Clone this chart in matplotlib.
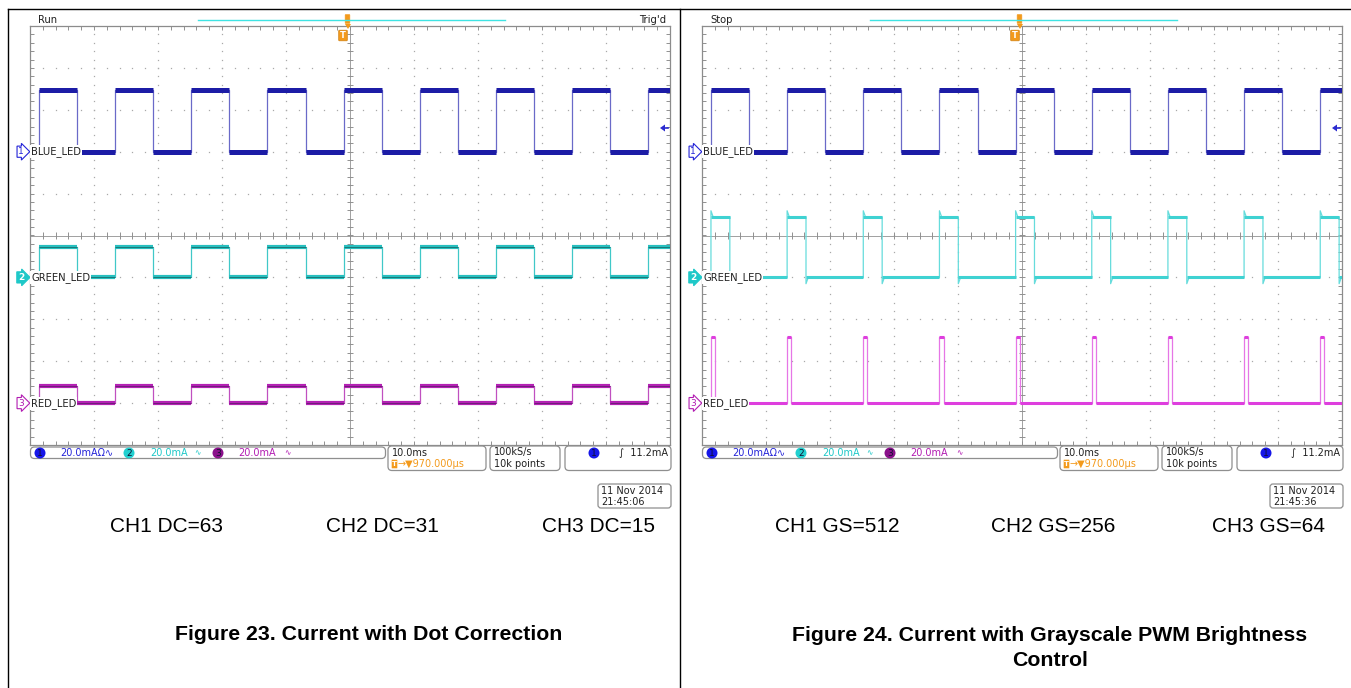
import numpy as np
import matplotlib
matplotlib.use('Agg')
import matplotlib.pyplot as plt
from matplotlib.patches import FancyBboxPatch, Circle, Polygon
from matplotlib.collections import LineCollection

W, H = 1351, 688

# ---------------- data ----------------
rise_ms = [1.4, 13.3, 25.2, 37.1, 49.0, 60.9, 72.8, 84.7, 96.6]   # pulse starts (ms)
channel_names = ['BLUE_LED', 'GREEN_LED', 'RED_LED']
channel_offset_div = [2, -1, -4]          # baseline of each trace (divisions)
volts_per_div_mA = 20.0

# Figure 23 : dot correction (amplitude changes, duty stays)
dc_high_mA = [29.5, 14.5, 8.0]
dc_width_ms = [5.95, 5.95, 5.95]
dc_overshoot_mA = [0.0, 0.0, 0.0]
dc_labels = ['CH1 DC=63', 'CH2 DC=31', 'CH3 DC=15']

# Figure 24 : grayscale PWM (duty changes, amplitude stays)
gs_high_mA = [29.5, 28.8, 31.5]
gs_width_ms = [5.95, 2.95, 0.65]
gs_overshoot_mA = [0.0, 3.0, 0.0]
gs_labels = ['CH1 GS=512', 'CH2 GS=256', 'CH3 GS=64']

captions = ['Figure 23. Current with Dot Correction',
            'Figure 24. Current with Grayscale PWM Brightness\nControl']
states = ['Run', 'Stop']
trig_state = ['Trig\'d', '']
timestamps = ['21:45:06', '21:45:36']
date_str = '11 Nov 2014'
scale_txt = '20.0mA'
timebase = '10.0ms'
delay = '970.000µs'
rate = '100kS/s'
points = '10k points'
trig_level = '11.2mA'

# ---------------- styling ----------------
panel_x0 = [30, 702]
GW, G_TOP, G_BOT = 640, 26, 445
thick_cols = {0: [('#1c1ca6', '#6a6ac8', None), ('#27bfbf', '#40c8c8', '#1b7676'), ('#b421b4', '#c050c0', '#6d1f78')],
              1: [('#1c1ca6', '#6a6ac8', None), ('#3fd2d2', '#66dcdc', None), ('#de3ede', '#e676e6', None)]}
band_lw = {0: [3.6, 3.0, 3.0], 1: [3.6, 2.2, 2.2]}
ch_col = ['#2323d8', '#1ec8c8', '#b21cb2']
circ_col = ['#1616e8', '#22d0d0', '#8a108a']
orange = '#f39a1c'
gridc = '#a9a9a9'

fig = plt.figure(figsize=(W / 100, H / 100), dpi=100)

# overlay axes in pixel coordinates
ov = fig.add_axes([0, 0, 1, 1], zorder=10)
ov.set_xlim(0, W)
ov.set_ylim(H, 0)
ov.axis('off')
ov.patch.set_alpha(0)


def build_step(rises, width, high, os_):
    xs, ys = [0.0], [0.0]
    hi_segs, lo_segs = [], []
    last = 0.0
    for r in rises:
        f = r + width
        lo_segs.append((last, r))
        xs += [r, r]
        ys += [0.0, high + os_]
        if os_:
            xs.append(r + 0.35)
            ys.append(high)
        if f >= 100:
            xs.append(100.0)
            ys.append(high)
            hi_segs.append((r, 100.0))
            last = None
            break
        hi_segs.append((r, f))
        xs += [f, f]
        ys += [high, -os_ if os_ else 0.0]
        if os_:
            xs.append(f + 0.35)
            ys.append(0.0)
        last = f
    if last is not None:
        lo_segs.append((last, 100.0))
        xs.append(100.0)
        ys.append(0.0)
    return np.array(xs), np.array(ys), hi_segs, lo_segs


for p in range(2):
    x0 = panel_x0[p]
    ax = fig.add_axes([x0 / W, (H - G_BOT) / H, GW / W, (G_BOT - G_TOP) / H], zorder=2)
    ax.set_xlim(0, 100)
    ax.set_ylim(-5, 5)
    ax.set_xticks([])
    ax.set_yticks([])
    for s in ax.spines.values():
        s.set_color('#8c8c8c')
        s.set_linewidth(0.9)

    # dotted graticule
    yy = np.arange(-5, 5.001, 0.2)
    xx = np.arange(0, 100.001, 2)
    for k in range(1, 10):
        if k == 5:
            continue
        ax.plot(np.full_like(yy, 10 * k), yy, ls='none', marker='s', ms=0.9, color=gridc, mew=0)
    for k in range(-4, 5):
        if k == 0:
            continue
        ax.plot(xx, np.full_like(xx, k), ls='none', marker='s', ms=0.9, color=gridc, mew=0)
    ax.axvline(50, color='#a0a0a0', lw=0.7)
    ax.axhline(0, color='#a0a0a0', lw=0.7)
    segs = []
    for x in xx:
        segs.append([(x, -0.09), (x, 0.09)])
        segs.append([(x, 5), (x, 4.9)])
        segs.append([(x, -5), (x, -4.9)])
    for y in yy:
        segs.append([(49.5, y), (50.5, y)])
        segs.append([(0, y), (0.6, y)])
        segs.append([(100, y), (99.4, y)])
    ax.add_collection(LineCollection(segs, colors='#909090', linewidths=0.7))

    highs = dc_high_mA if p == 0 else gs_high_mA
    widths = dc_width_ms if p == 0 else gs_width_ms
    oss = dc_overshoot_mA if p == 0 else gs_overshoot_mA
    for c in range(3):
        base = channel_offset_div[c]
        hi = highs[c] / volts_per_div_mA
        os_ = oss[c] / volts_per_div_mA
        xs, ys, hs, ls_ = build_step(rise_ms, widths[c], hi, os_)
        thick, edge, center = thick_cols[p][c]
        ax.plot(xs, ys + base, color=edge, lw=0.9, zorder=3)
        lw = band_lw[p][c]
        ax.hlines([base + hi] * len(hs), [a for a, b in hs], [b for a, b in hs], color=thick, lw=lw, zorder=4)
        ax.hlines([base] * len(ls_), [a for a, b in ls_], [b for a, b in ls_], color=thick, lw=lw, zorder=4)
        if center:
            ax.hlines([base + hi] * len(hs), [a for a, b in hs], [b for a, b in hs], color=center, lw=0.7, zorder=5)
            ax.hlines([base] * len(ls_), [a for a, b in ls_], [b for a, b in ls_], color=center, lw=0.7, zorder=5)

    # channel labels
    for c in range(3):
        ypx = G_TOP + (5 - channel_offset_div[c]) * (G_BOT - G_TOP) / 10
        if c == 1:
            ov.text(x0 - 9, ypx, str(c + 1), color='white', fontsize=6.5, ha='center', va='center',
                    fontweight='bold',
                    bbox=dict(boxstyle='rarrow,pad=0.12', fc=ch_col[c], ec=ch_col[c], lw=0.8))
        else:
            ov.text(x0 - 9, ypx, str(c + 1), color=ch_col[c], fontsize=6.5, ha='center', va='center',
                    bbox=dict(boxstyle='rarrow,pad=0.12', fc='white', ec=ch_col[c], lw=0.8))
        ov.text(x0 + 1, ypx, channel_names[c], color='#202020', fontsize=7.2, ha='left', va='center',
                bbox=dict(boxstyle='square,pad=0.1', fc='white', ec='none'))

    # top bar
    ov.text(x0 + 8, 20, states[p], fontsize=7.2, color='#202020', va='center', ha='left')
    if trig_state[p]:
        ov.text(x0 + 609, 20, trig_state[p], fontsize=7.2, color='#202020', va='center', ha='left')
    ov.plot([x0 + 168, x0 + 475], [20, 20], color='#3fe3e3', lw=1.0)
    ov.add_patch(FancyBboxPatch((x0 + 315.5, 15), 4, 8, boxstyle='round,pad=0.3', fc=orange, ec=orange, lw=0.5))
    ov.add_patch(Polygon([[x0 + 315, 24], [x0 + 321, 24], [x0 + 318, 29]], closed=True, fc=orange, ec='none'))
    ov.add_patch(FancyBboxPatch((x0 + 309.5, 31), 7, 9, boxstyle='round,pad=0.8', fc=orange, ec='#d08010', lw=0.5))
    ov.text(x0 + 313, 35.5, 'T', color='white', fontsize=6, fontweight='bold', ha='center', va='center')
    # trigger level arrow
    ov.add_patch(Polygon([[x0 + 630, 128], [x0 + 635, 124.5], [x0 + 635, 131.5]], closed=True, fc='#2a2ad0', ec='none'))
    ov.plot([x0 + 634, x0 + 638], [128, 128], color='#2a2ad0', lw=1.2)

    # status bar
    ov.add_patch(FancyBboxPatch((x0 + 0.5, 447), 355, 11.5, boxstyle='round,pad=0,rounding_size=4',
                                fc='white', ec='#8f8f8f', lw=0.9))
    cx = [x0 + 10, x0 + 99, x0 + 188]
    tx = [x0 + 30, x0 + 120, x0 + 208]
    suffix = ['Ω∿', '', '']
    sym = ['', '∿', '∿']
    sym_x = [0, x0 + 164, x0 + 254]
    for c in range(3):
        ov.add_patch(Circle((cx[c], 453), 5.5, fc=circ_col[c], ec='none'))
        ov.text(cx[c], 453.3, str(c + 1), fontsize=6.5, color='#101030', ha='center', va='center')
        ov.text(tx[c], 453, scale_txt + suffix[c], fontsize=7, color=ch_col[c], ha='left', va='center')
        if sym[c]:
            ov.text(sym_x[c], 453, sym[c], fontsize=5.5, color=ch_col[c], ha='left', va='center')

    ov.add_patch(FancyBboxPatch((x0 + 358, 446), 98, 24.5, boxstyle='round,pad=0,rounding_size=4',
                                fc='white', ec='#8f8f8f', lw=0.9))
    ov.text(x0 + 362, 452.5, timebase, fontsize=7, color='#202020', ha='left', va='center')
    ov.add_patch(FancyBboxPatch((x0 + 362, 460), 5, 8, boxstyle='round,pad=0.3', fc=orange, ec='none'))
    ov.text(x0 + 364.5, 464, 'T', fontsize=5, color='white', ha='center', va='center', fontweight='bold')
    ov.text(x0 + 368, 464, '→▼' + delay, fontsize=7, color=orange, ha='left', va='center')

    ov.add_patch(FancyBboxPatch((x0 + 460, 446), 70, 24.5, boxstyle='round,pad=0,rounding_size=4',
                                fc='white', ec='#8f8f8f', lw=0.9))
    ov.text(x0 + 464, 452.5, rate, fontsize=7, color='#202020', ha='left', va='center')
    ov.text(x0 + 464, 464, points, fontsize=7, color='#202020', ha='left', va='center')

    ov.add_patch(FancyBboxPatch((x0 + 535, 446), 106, 24.5, boxstyle='round,pad=0,rounding_size=4',
                                fc='white', ec='#8f8f8f', lw=0.9))
    ov.add_patch(Circle((x0 + 564, 453), 5.5, fc=circ_col[0], ec='none'))
    ov.text(x0 + 564, 453.3, '1', fontsize=6.5, color='#101030', ha='center', va='center')
    ov.text(x0 + 638, 453, '∫  ' + trig_level, fontsize=7, color='#202020', ha='right', va='center')

    ov.add_patch(FancyBboxPatch((x0 + 568, 484), 73, 24, boxstyle='round,pad=0,rounding_size=3',
                                fc='white', ec='#8f8f8f', lw=0.9))
    ov.text(x0 + 571, 491, date_str, fontsize=7, color='#202020', ha='left', va='center')
    ov.text(x0 + 571, 502, timestamps[p], fontsize=7, color='#202020', ha='left', va='center')

    # annotations below
    labs = dc_labels if p == 0 else gs_labels
    for i, cxp in enumerate([x0 + 136, x0 + 352, x0 + 568]):
        ov.text(cxp + (-1 if p else 0), 526, labs[i], fontsize=15, family='Liberation Sans',
                ha='center', va='center', color='black')

# captions
ov.text(369, 634, captions[0], fontsize=15.3, family='Liberation Sans', fontweight='bold',
        ha='center', va='center')
ov.text(1050, 648, captions[1], fontsize=15.3, family='Liberation Sans', fontweight='bold',
        ha='center', va='center', linespacing=1.45)

# page frame
ov.plot([8, W], [9, 9], color='black', lw=1.0)
ov.plot([8, 8], [9, H], color='black', lw=1.0)
ov.plot([680, 680], [9, H], color='black', lw=1.0)

fig.savefig('out.png', dpi=100)
